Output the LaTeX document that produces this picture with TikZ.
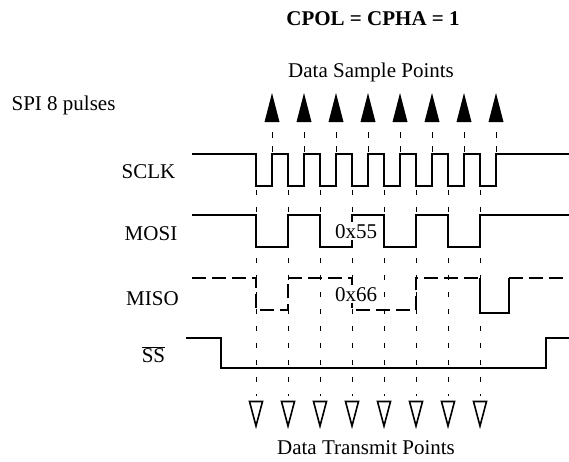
\documentclass[tikz,border=0pt]{standalone}
\usepackage{fontspec}
\setmainfont{Liberation Serif}
\begin{document}
\begin{tikzpicture}[x=1pt,y=-1pt,
  sig/.style={line width=1.1pt, line join=miter},
  dsig/.style={sig, dash pattern=on 14pt off 6pt},
  tickline/.style={line width=0.9pt, dash pattern=on 5pt off 12pt},
  sampline/.style={line width=0.9pt, dash pattern=on 6pt off 8pt},
  lbl/.style={font=\fontsize{21}{24}\selectfont, inner sep=0pt, anchor=base},
  hexlbl/.style={lbl, fill=white, inner sep=2pt},
  samparrow/.style={fill=black},
  xmitarrow/.style={draw=black, line width=1.6pt, line join=miter}]
\path[use as bounding box] (0,0) rectangle (569,461);

% titles and labels
\node[lbl, font=\fontsize{21}{24}\selectfont\bfseries] (title) at (373,25) {CPOL = CPHA = 1};
\node[lbl] (sample) at (371,77) {Data Sample Points};
\node[lbl] (pulses) at (63.5,110) {SPI 8 pulses};
\node[lbl] (sclk) at (148.5,178) {SCLK};
\node[lbl] (mosi) at (151,240) {MOSI};
\node[lbl] (miso) at (152.5,305) {MISO};
\node[lbl] (ss) at (153.5,362) {$\overline{\mbox{SS}}$};
\node[lbl] (transmit) at (366,454) {Data Transmit Points};

% sample and transmit markers with dashed guide lines
\foreach \i in {0,...,7} {
  \pgfmathsetmacro\fx{256+32*\i}
  \pgfmathsetmacro\rx{272+32*\i}
  \coordinate (sp\i) at (\rx,132);
  \coordinate (sq\i) at (\rx,154);
  \coordinate (tp\i) at (\fx,190);
  \coordinate (tq\i) at (\fx,396);
  \fill[samparrow] (\rx,93) -- (\rx+7.5,122) -- (\rx-7.5,122) -- cycle;
  \draw[sampline] (sp\i) -- (sq\i);
  \draw[tickline] (tp\i) -- (tq\i);
  \draw[xmitarrow] (\fx-6.5,401.5) -- (\fx+6.5,401.5) -- (\fx,426) -- cycle;
}

% SCLK
\draw[sig] (192,154) -- (256,154)
  \foreach \i in {0,...,7} { -- ({256+32*\i},154) -- ({256+32*\i},186) -- ({272+32*\i},186) -- ({272+32*\i},154) }
  -- (569,154);

% MOSI = 0x55
\draw[sig] (192,215) -- (256,215) -- (256,247) -- (288,247) -- (288,215) -- (320,215)
  -- (320,247) -- (352,247) -- (352,215) -- (384,215) -- (384,247) -- (416,247)
  -- (416,215) -- (448,215) -- (448,247) -- (480,247) -- (480,215) -- (569,215);
\draw[line width=2pt] (505,215) -- (511,215);

% MISO = 0x66
\draw[dsig] (192,278) -- (256,278) -- (256,310) -- (288,310) -- (288,278) -- (352,278)
  -- (352,310) -- (416,310) -- (416,278) -- (480,278);
\draw[sig] (480,278) -- (480,313) -- (509,313) -- (509,278);
\draw[dsig] (509,278) -- (569,278);

% SS
\draw[sig] (186,338) -- (221,338) -- (221,368) -- (546,368) -- (546,338) -- (569,338);

% data values
\node[hexlbl] (v55) at (356,238) {0x55};
\node[hexlbl] (v66) at (356,301) {0x66};
\end{tikzpicture}
\end{document}
